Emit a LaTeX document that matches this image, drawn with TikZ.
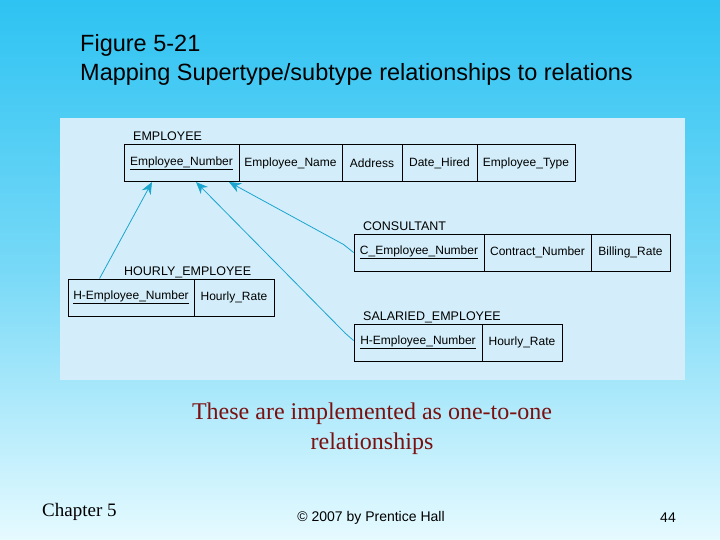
\documentclass[tikz,border=0pt]{standalone}
\usepackage{fontspec}
\setmainfont{Liberation Serif}
\setsansfont{Liberation Sans}
\usetikzlibrary{arrows.meta}
\definecolor{bgtop}{HTML}{2EC3F2}
\definecolor{bgbot}{HTML}{E6FAFF}
\definecolor{panel}{HTML}{D3EEFA}
\definecolor{link}{HTML}{1AA5CF}
\definecolor{maroon}{HTML}{7A1010}
\tikzset{
 cell/.style={draw=black,line width=0.9pt,minimum height=37pt,inner sep=0pt,font=\sffamily\fontsize{12}{14}\selectfont},
 tlabel/.style={anchor=base west,inner sep=0pt,font=\sffamily\fontsize{12.5}{14}\selectfont},
 conn/.style={draw=link,line width=0.8pt,-{Stealth[length=12pt,width=10pt]}}
}
\begin{document}
\begin{tikzpicture}[x=1pt,y=-1pt]
\shade[top color=bgtop,bottom color=bgbot,middle color=bgbot!40!bgtop] (0,0) rectangle (720,540);
\useasboundingbox (0,0) rectangle (720,540);
\fill[panel] (60,118) rectangle (685,380);
\node[anchor=north west,align=left,inner sep=0pt,font=\sffamily\fontsize{23.5}{29}\selectfont] (title) at (80,34) {Figure 5-21\\Mapping Supertype/subtype relationships to relations};
% EMPLOYEE
\node[tlabel] (lemp) at (133,141) {EMPLOYEE};
\node[cell,minimum width=115pt] (e1) at (181.5,163) {\underline{Employee\_Number}};
\node[cell,minimum width=103pt] (e2) at (290.5,163) {Employee\_Name};
\node[cell,minimum width=60pt] (e3) at (372,163) {Address};
\node[cell,minimum width=75pt] (e4) at (439.5,163) {Date\_Hired};
\node[cell,minimum width=98pt] (e5) at (526,163) {Employee\_Type};
% CONSULTANT
\node[tlabel] (lcon) at (363,230) {CONSULTANT};
\node[cell,minimum width=130pt] (c1) at (419,252.5) {\underline{C\_Employee\_Number}};
\node[cell,minimum width=107pt] (c2) at (537.5,252.5) {Contract\_Number};
\node[cell,minimum width=79pt] (c3) at (630.5,252.5) {Billing\_Rate};
% HOURLY
\node[tlabel] (lhr) at (124,275) {HOURLY\_EMPLOYEE};
\node[cell,minimum width=126pt] (h1) at (131,297.5) {\underline{H-Employee\_Number}};
\node[cell,minimum width=80pt] (h2) at (234,297.5) {Hourly\_Rate};
% SALARIED
\node[tlabel] (lsal) at (363,320) {SALARIED\_EMPLOYEE};
\node[cell,minimum width=128pt] (s1) at (418,342.5) {\underline{H-Employee\_Number}};
\node[cell,minimum width=80pt] (s2) at (522,342.5) {Hourly\_Rate};
% connectors
\coordinate (t1) at (152,182);
\coordinate (t2) at (196,182);
\coordinate (t3) at (229,182);
\draw[conn] (h1.north west) ++(32,0) -- (t1);
\draw[conn] (s1.west) ++(0,-2) -- ++(-8,-7) -- (t2);
\draw[conn] (c1.west) -- ++(-10,-8) -- (t3);
% bottom text
\node[align=center,text=maroon,inner sep=0pt,font=\fontsize{24}{30}\selectfont] (note) at (372,429) {These are implemented as one-to-one\\relationships};
\node[anchor=base west,inner sep=0pt,font=\fontsize{19}{20}\selectfont] (chap) at (42,516) {Chapter 5};
\node[anchor=base,inner sep=0pt,font=\sffamily\fontsize{14}{16}\selectfont] (copy) at (371,521) {© 2007 by Prentice Hall};
\node[anchor=base,inner sep=0pt,font=\sffamily\fontsize{14}{16}\selectfont] (page) at (668,522) {44};
\end{tikzpicture}
\end{document}
